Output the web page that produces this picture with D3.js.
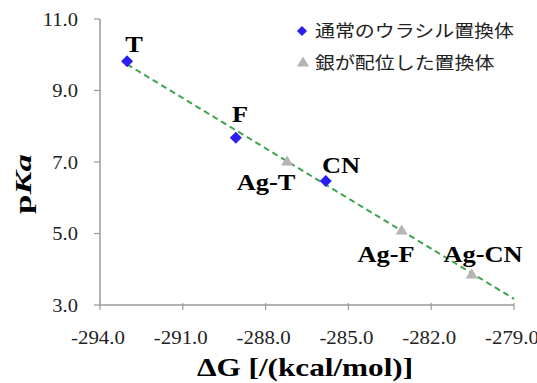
<!DOCTYPE html>
<html>
  <head>
    <meta charset="utf-8">
    <title>pKa vs dG</title>
    <script src="https://d3js.org/d3.v7.min.js"></script>
    <style>
      body { margin: 0; background: #fff; }
      svg { display: block; }
      .serif { font-family: "Liberation Serif", "Times New Roman", serif; }
      .jp { font-family: "Noto Sans CJK JP", sans-serif; }
    </style>
  </head>
  <body>
    <div id="chart"></div>
    <script>
      // data
      var normalNames = ["T", "F", "CN"];
      var normalDG = [-293.02, -289.08, -285.82];
      var normalPKa = [9.82, 7.68, 6.47];
      var silverNames = ["Ag-T", "Ag-F", "Ag-CN"];
      var silverDG = [-287.22, -283.07, -280.53];
      var silverPKa = [7.03, 5.10, 3.87];
      var xTicks = [-294, -291, -288, -285, -282, -279];
      var yTicks = [3, 5, 7, 9, 11];
      var legendLabels = ["通常のウラシル置換体", "銀が配位した置換体"];

      var width = 537, height = 383;
      var margin = { top: 19, right: 23, bottom: 78, left: 100 };

      var svg = d3.select("#chart").append("svg")
        .attr("width", width)
        .attr("height", height);

      var x = d3.scaleLinear().domain([-294, -279]).range([margin.left, width - margin.right]);
      var y = d3.scaleLinear().domain([3, 11]).range([height - margin.bottom, margin.top]);

      // stretched text helper (the source figure is squashed a bit)
      function label(str, px, py, size, anchor, sx, cls) {
        return svg.append("text")
          .attr("class", cls || "serif")
          .attr("transform", "translate(" + px + "," + py + ") scale(" + sx + ",1)")
          .attr("text-anchor", anchor)
          .style("font-size", size + "px")
          .text(str);
      }

      // axes
      var axisColor = "#9a9a9a";
      svg.append("line")
        .attr("x1", x(-294)).attr("x2", x(-294))
        .attr("y1", y(11)).attr("y2", y(3))
        .attr("stroke", axisColor).attr("stroke-width", 1.5);
      svg.append("line")
        .attr("x1", x(-294)).attr("x2", x(-279))
        .attr("y1", y(3)).attr("y2", y(3))
        .attr("stroke", axisColor).attr("stroke-width", 1.5);
      yTicks.forEach(function(t) {
        svg.append("line")
          .attr("x1", x(-294) - 6).attr("x2", x(-294))
          .attr("y1", y(t)).attr("y2", y(t))
          .attr("stroke", axisColor).attr("stroke-width", 1.2);
        label(t.toFixed(1), 78, y(t) + 6.5, 18, "end", 1.14).attr("fill", "#222");
      });
      xTicks.forEach(function(t) {
        svg.append("line")
          .attr("x1", x(t)).attr("x2", x(t))
          .attr("y1", y(3) - 2).attr("y2", y(3) + 5)
          .attr("stroke", axisColor).attr("stroke-width", 1.2);
        label(t.toFixed(1), x(t) - 2, 344, 19, "middle", 1.1).attr("fill", "#222");
      });

      // axis titles
      label("ΔG [/(kcal/mol)]", 305, 376, 26, "middle", 1.2)
        .style("font-weight", "bold");
      var yTitle = svg.append("text")
        .attr("class", "serif")
        .attr("transform", "translate(31,184) rotate(-90) scale(1.45,1)")
        .attr("text-anchor", "middle")
        .style("font-size", "24px")
        .style("font-weight", "bold");
      yTitle.append("tspan").text("p");
      yTitle.append("tspan").style("font-style", "italic").text("Ka");

      // trend line (least squares over all six points)
      var allX = normalDG.concat(silverDG), allY = normalPKa.concat(silverPKa);
      var mx = d3.mean(allX), my = d3.mean(allY);
      var slope = d3.sum(allX, function(v, i) { return (v - mx) * (allY[i] - my); }) /
                  d3.sum(allX, function(v) { return (v - mx) * (v - mx); });
      var fit = function(v) { return my + slope * (v - mx); };
      var x0 = d3.min(allX), x1 = x.domain()[1];
      svg.append("line")
        .attr("x1", x(x0)).attr("y1", y(fit(x0)))
        .attr("x2", x(x1)).attr("y2", y(fit(x1)))
        .attr("stroke", "#3fa34d")
        .attr("stroke-width", 2)
        .attr("stroke-dasharray", "6,4");

      // markers
      var diamond = "M0,-6L6,0L0,6L-6,0Z";
      var triangle = "M0,-5.5L6,4.5L-6,4.5Z";
      var blue = "#2a1ff0", gray = "#b4b4b4";
      svg.selectAll(".normal")
        .data(normalDG)
        .enter().append("path")
          .attr("class", "normal")
          .attr("d", diamond)
          .attr("fill", blue)
          .attr("transform", function(d, i) { return "translate(" + x(d) + "," + y(normalPKa[i]) + ")"; });
      svg.selectAll(".silver")
        .data(silverDG)
        .enter().append("path")
          .attr("class", "silver")
          .attr("d", triangle)
          .attr("fill", gray)
          .attr("transform", function(d, i) { return "translate(" + x(d) + "," + y(silverPKa[i]) + ")"; });

      // point labels
      var labelPos = [[134, 52], [240, 122], [341, 173], [266, 190], [386, 262], [483, 262]];
      normalNames.concat(silverNames).forEach(function(n, i) {
        label(n, labelPos[i][0], labelPos[i][1], 24, "middle", 1.1)
          .style("font-weight", "bold");
      });

      // legend
      svg.append("path").attr("d", diamond)
        .attr("fill", blue)
        .attr("transform", "translate(302,31) scale(0.85)");
      svg.append("path").attr("d", triangle)
        .attr("fill", gray)
        .attr("transform", "translate(303,62)");
      label(legendLabels[0], 315, 37, 17.5, "start", 1.14, "jp").attr("fill", "#222");
      label(legendLabels[1], 315, 69, 17.5, "start", 1.14, "jp").attr("fill", "#222");
    </script>
  </body>
</html>
